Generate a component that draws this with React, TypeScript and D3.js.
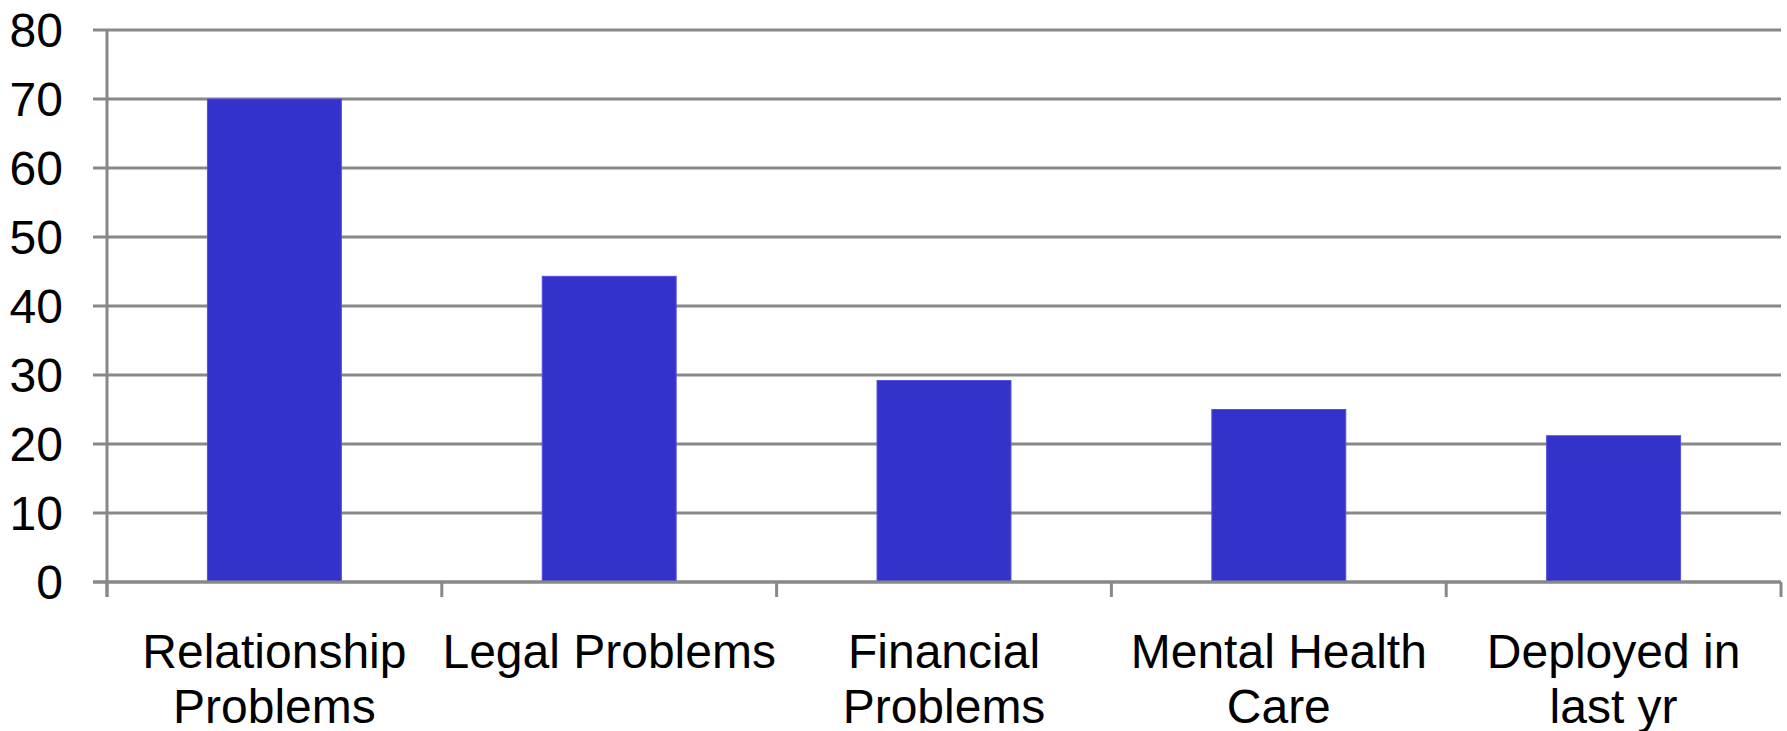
import React, { useRef, useEffect } from "react";
import * as d3 from "d3";

const categories = [
  ["Relationship", "Problems"],
  ["Legal Problems"],
  ["Financial", "Problems"],
  ["Mental Health", "Care"],
  ["Deployed in", "last yr"],
];
const values = [70, 44.3, 29.2, 25, 21.2];
const yTicks = [0, 10, 20, 30, 40, 50, 60, 70, 80];

const W = 1787;
const H = 731;
const margin = { top: 30, right: 6, bottom: 149, left: 107 };
const font = "'Liberation Sans', Arial, sans-serif";
const gridColor = "#888888";
const barColor = "#3333cc";

const App = () => {
  const canvas = useRef<SVGSVGElement>(null);

  useEffect(() => {
    const svg = d3.select(canvas.current);
    svg.selectAll("*").remove();

    const keys = categories.map((c) => c.join(" "));
    const xScale = d3.scaleBand<string>().domain(keys).range([margin.left, W - margin.right]).padding(0);
    const yScale = d3.scaleLinear().domain([0, 80]).range([H - margin.bottom, margin.top]);
    const bw = xScale.bandwidth();

    // gridlines (with small tick stub to the left)
    svg.append("g")
      .selectAll("line")
      .data(yTicks)
      .join("line")
      .attr("x1", margin.left - 14)
      .attr("x2", W - margin.right)
      .attr("y1", (d) => yScale(d))
      .attr("y2", (d) => yScale(d))
      .attr("stroke", gridColor)
      .attr("stroke-width", 3);

    // y labels
    svg.append("g")
      .selectAll("text")
      .data(yTicks)
      .join("text")
      .attr("x", 63)
      .attr("y", (d) => yScale(d))
      .attr("dy", "0.36em")
      .attr("text-anchor", "end")
      .attr("font-family", font)
      .attr("font-size", 48)
      .attr("fill", "#000")
      .text((d) => d);

    // bars
    svg.append("g")
      .selectAll("rect")
      .data(values)
      .join("rect")
      .attr("x", (d, i) => (xScale(keys[i]) as number) + bw * 0.3)
      .attr("width", bw * 0.4)
      .attr("y", (d) => yScale(d))
      .attr("height", (d) => yScale(0) - yScale(d))
      .attr("fill", barColor)
      .attr("stroke", "#5050dd")
      .attr("stroke-width", 1);

    // axes
    const y0 = yScale(0);
    svg.append("line")
      .attr("x1", margin.left).attr("x2", margin.left)
      .attr("y1", yScale(80)).attr("y2", y0 + 15)
      .attr("stroke", gridColor).attr("stroke-width", 3);
    svg.append("line")
      .attr("x1", margin.left - 14).attr("x2", W - margin.right)
      .attr("y1", y0).attr("y2", y0)
      .attr("stroke", gridColor).attr("stroke-width", 3);

    const bounds = keys.map((k) => xScale(k) as number).concat([W - margin.right]);
    svg.append("g")
      .selectAll("line")
      .data(bounds)
      .join("line")
      .attr("x1", (d) => d).attr("x2", (d) => d)
      .attr("y1", y0).attr("y2", y0 + 15)
      .attr("stroke", gridColor).attr("stroke-width", 3);

    // category labels
    const lbl = svg.append("g")
      .selectAll("text")
      .data(categories)
      .join("text")
      .attr("text-anchor", "middle")
      .attr("font-family", font)
      .attr("font-size", 48)
      .attr("fill", "#000");
    lbl.each(function (lines, i) {
      const cx = (xScale(keys[i]) as number) + bw / 2;
      d3.select(this)
        .selectAll("tspan")
        .data(lines)
        .join("tspan")
        .attr("x", cx)
        .attr("y", (d, j) => 668 + j * 55)
        .text((d) => d);
    });
  }, []);

  return (
    <svg ref={canvas} width={W} height={H} style={{ position: "absolute", left: 0, top: 0, background: "#fff" }}></svg>
  );
};

export default App;
